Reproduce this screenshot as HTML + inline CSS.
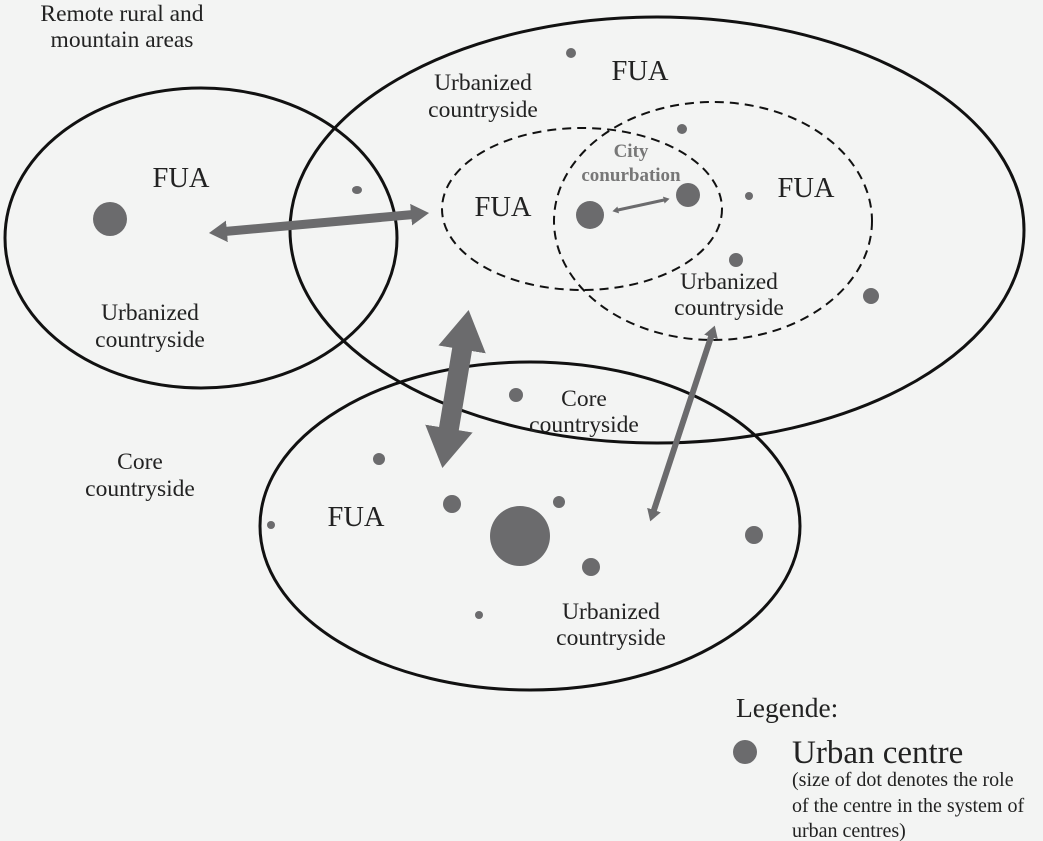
<!DOCTYPE html>
<html><head><meta charset="utf-8"><style>
html,body{margin:0;padding:0;background:#f3f4f3;}
svg{display:block}
text{font-family:"Liberation Serif",serif;fill:#222;}
</style></head><body>
<svg width="1043" height="841" viewBox="0 0 1043 841" xmlns="http://www.w3.org/2000/svg">
<defs>
<marker id="h" viewBox="0 -1.2 2 2.4" refX="0.1" refY="0" markerWidth="2" markerHeight="2.4" orient="auto-start-reverse" markerUnits="strokeWidth">
<path d="M0,-1.2 L2,0 L0,1.2 z" fill="#6b6b6d"/></marker>
</defs>
<rect width="1043" height="841" fill="#f3f4f3"/>
<g fill="none" stroke="#111" stroke-width="3">
<ellipse cx="201" cy="238" rx="196" ry="150"/>
<ellipse cx="657" cy="230" rx="367" ry="213"/>
<ellipse cx="530" cy="526" rx="270" ry="164"/>
</g>
<g fill="none" stroke="#111" stroke-width="2" stroke-dasharray="9,6">
<ellipse cx="582" cy="209" rx="140" ry="81"/>
<ellipse cx="713" cy="221" rx="159" ry="119"/>
</g>
<g fill="#6b6b6d">
<circle cx="110" cy="219" r="17"/><ellipse cx="357" cy="190" rx="5" ry="4"/>
<circle cx="571" cy="53" r="5"/><circle cx="682" cy="129" r="5"/>
<circle cx="590" cy="215" r="14"/><circle cx="688" cy="195" r="12"/>
<circle cx="749" cy="196" r="4"/><circle cx="736" cy="260" r="7"/>
<circle cx="871" cy="296" r="8"/><circle cx="516" cy="395" r="7"/>
<circle cx="379" cy="459" r="6"/><circle cx="452" cy="504" r="9"/>
<circle cx="559" cy="502" r="6"/><circle cx="520" cy="536" r="30"/>
<circle cx="591" cy="567" r="9"/><circle cx="754" cy="535" r="9"/>
<circle cx="271" cy="525" r="4"/><circle cx="479" cy="615" r="4"/>
<circle cx="745" cy="752" r="12"/>
</g>
<g stroke="#6b6b6d" fill="none">
<line x1="226" y1="231.4" x2="412" y2="214.6" stroke-width="9" marker-start="url(#h)" marker-end="url(#h)"/>
<line x1="462.4" y1="347.5" x2="448.6" y2="430.5" stroke-width="20" marker-start="url(#h)" marker-end="url(#h)"/>
<line x1="711.2" y1="336.4" x2="653.8" y2="510.6" stroke-width="6" marker-start="url(#h)" marker-end="url(#h)"/>
<line x1="618" y1="210" x2="664" y2="200" stroke-width="3" marker-start="url(#h)" marker-end="url(#h)"/>
</g>
<g font-size="23.5">
<text x="122" y="21" text-anchor="middle">Remote rural and</text>
<text x="122" y="47" text-anchor="middle">mountain areas</text>
<text x="150" y="320" text-anchor="middle">Urbanized</text>
<text x="150" y="347" text-anchor="middle">countryside</text>
<text x="483" y="90" text-anchor="middle">Urbanized</text>
<text x="483" y="117" text-anchor="middle">countryside</text>
<text x="729" y="289" text-anchor="middle">Urbanized</text>
<text x="729" y="315" text-anchor="middle">countryside</text>
<text x="584" y="406" text-anchor="middle">Core</text>
<text x="584" y="432" text-anchor="middle">countryside</text>
<text x="140" y="469" text-anchor="middle">Core</text>
<text x="140" y="496" text-anchor="middle">countryside</text>
<text x="611" y="619" text-anchor="middle">Urbanized</text>
<text x="611" y="645" text-anchor="middle">countryside</text>
</g>
<g font-size="28.5">
<text x="181" y="187" text-anchor="middle">FUA</text>
<text x="640" y="80" text-anchor="middle">FUA</text>
<text x="503" y="216" text-anchor="middle">FUA</text>
<text x="806" y="197" text-anchor="middle">FUA</text>
<text x="356" y="526" text-anchor="middle">FUA</text>
</g>
<g font-size="19" font-weight="bold">
<text x="631" y="157" text-anchor="middle" style="fill:#777">City</text>
<text x="631" y="181" text-anchor="middle" style="fill:#777">conurbation</text>
</g>
<text x="736" y="717" font-size="27.5">Legende:</text>
<text x="792" y="763" font-size="33">Urban centre</text>
<g font-size="20">
<text x="792" y="786">(size of dot denotes the role</text>
<text x="792" y="812">of the centre in the system of</text>
<text x="792" y="837">urban centres)</text>
</g>
</svg>
</body></html>
